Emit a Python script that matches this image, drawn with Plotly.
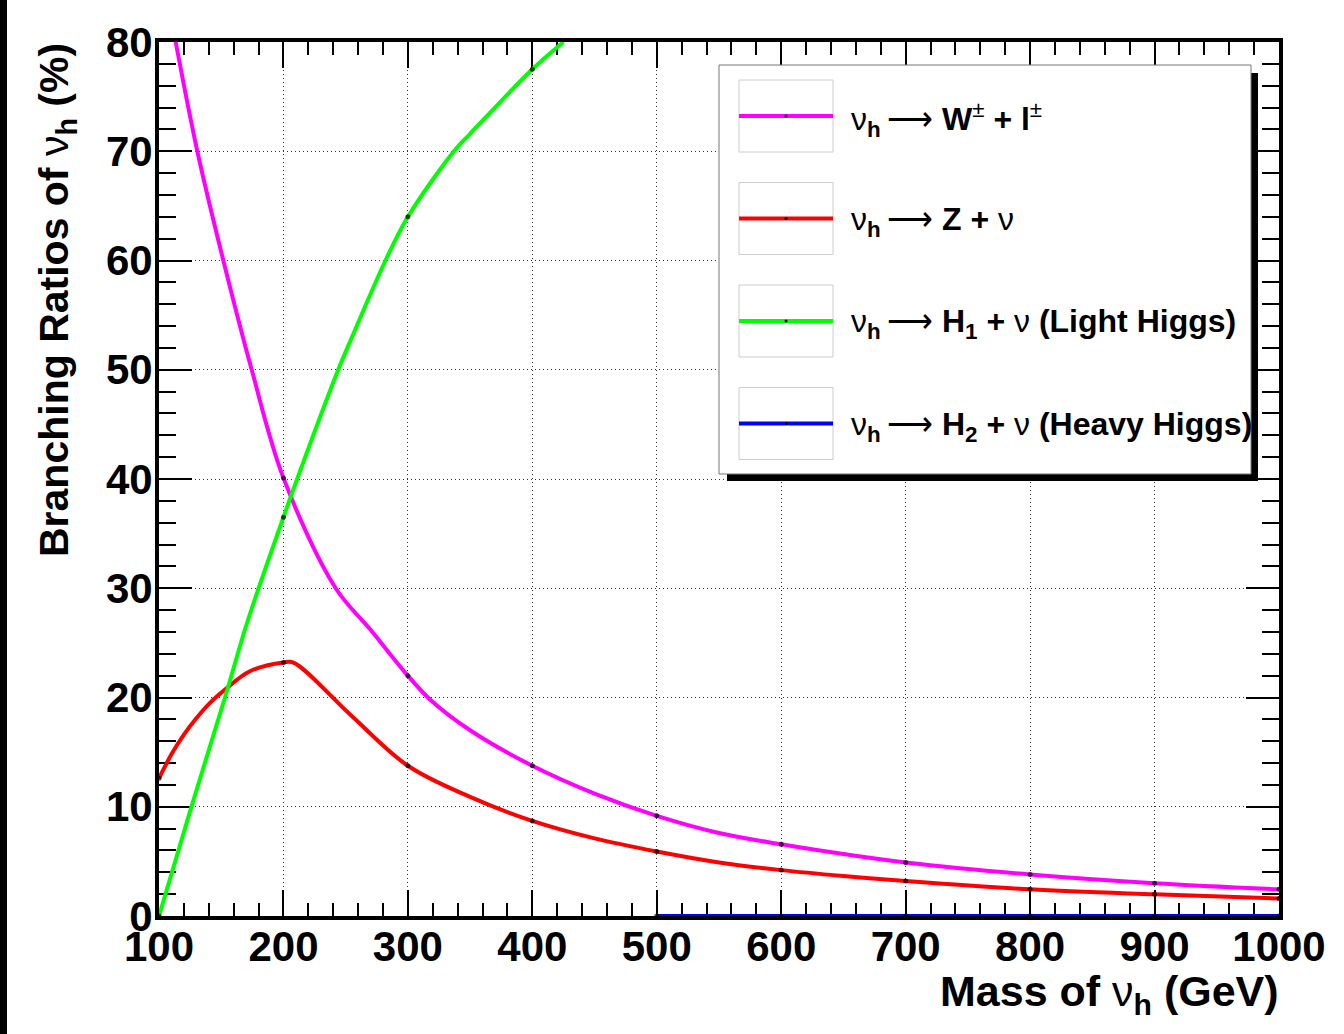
import plotly.graph_objects as go

# ---------------- data ----------------
mass_w = [113.4, 130.8, 151.7, 174.5, 200, 242, 270, 300, 318, 350, 400, 450, 500, 550, 600, 650, 700, 800, 900, 1000]
br_w = [80, 70, 60, 50, 40.1, 30, 26.2, 22.0, 19.8, 17.0, 13.75, 11.2, 9.17, 7.6, 6.56, 5.67, 4.9, 3.8, 3.0, 2.44]

mass_z = [100, 110, 120, 130, 140, 155, 173, 200, 208, 254, 300, 350, 400, 450, 500, 550, 600, 650, 700, 800, 900, 1000]
br_z = [12.6, 14.8, 16.6, 18.1, 19.4, 20.9, 22.4, 23.2, 23.2, 18.4, 13.75, 10.9, 8.7, 7.1, 5.9, 4.9, 4.2, 3.66, 3.2, 2.44, 1.98, 1.6]

mass_h1 = [100, 125, 153, 169, 180, 200, 211, 244, 254, 282, 300, 337, 350, 400, 425]
br_h1 = [0, 9.6, 20, 26.2, 30, 36.5, 40, 50, 52.7, 60, 64, 70, 71.6, 77.5, 80]

mass_h2 = [500, 600, 700, 800, 900, 1000]
br_h2 = [0, 0, 0, 0, 0, 0]

x_ticks = [100, 200, 300, 400, 500, 600, 700, 800, 900, 1000]
y_ticks = [0, 10, 20, 30, 40, 50, 60, 70, 80]

ARROW = "\u2009⟶"
series = [
    ("ν<sub><b>h</b></sub>" + ARROW + " <b>W</b><sup>±</sup><b> + l</b><sup>±</sup>", mass_w, br_w, "#ff00ff"),
    ("ν<sub><b>h</b></sub>" + ARROW + " <b>Z + </b>ν", mass_z, br_z, "#ff0000"),
    ("ν<sub><b>h</b></sub>" + ARROW + " <b>H</b><sub><b>1</b></sub><b> + </b>ν<b> (Light Higgs)</b>", mass_h1, br_h1, "#00ff00"),
    ("ν<sub><b>h</b></sub>" + ARROW + " <b>H</b><sub><b>2</b></sub><b> + </b>ν<b> (Heavy Higgs)</b>", mass_h2, br_h2, "#0000ff"),
]

# ---------------- geometry helpers (pixels -> paper) ----------------
W, H = 1344, 1034
L, R, T, B = 159, 1279, 42, 916
PW, PH = R - L, B - T


def px(x):
    return (x - L) / PW


def py(y):
    return (B - y) / PH


FONT = "Liberation Sans, Arial, sans-serif"

fig = go.Figure()
for name, xs, ys, col in series:
    sizes = [5 if abs(m % 100) < 1e-9 else 0 for m in xs]
    fig.add_trace(go.Scatter(
        x=xs, y=ys, mode="lines+markers", name=name,
        line=dict(color=col, width=4, shape="spline", smoothing=1.0),
        marker=dict(color="black", size=sizes, line=dict(width=0)),
        cliponaxis=False, hoverinfo="x+y",
    ))

shapes = []
annotations = []

# black strip at left edge of the canvas
shapes.append(dict(type="rect", xref="paper", yref="paper",
                   x0=px(0), x1=px(7), y0=py(H), y1=py(0),
                   fillcolor="black", line=dict(width=0), layer="above"))

# manual legend: shadow, box, entries
shapes.append(dict(type="rect", xref="paper", yref="paper",
                   x0=px(727), x1=px(1258), y0=py(481), y1=py(73),
                   fillcolor="black", line=dict(width=0), layer="above"))
shapes.append(dict(type="rect", xref="paper", yref="paper",
                   x0=px(719), x1=px(1251), y0=py(474), y1=py(65),
                   fillcolor="white", line=dict(color="#777", width=1), layer="above"))
for i, (name, xs, ys, col) in enumerate(series):
    top = 80 + i * 102.5
    bot = top + 72
    cy = (top + bot) / 2
    shapes.append(dict(type="rect", xref="paper", yref="paper",
                       x0=px(739), x1=px(833), y0=py(bot), y1=py(top),
                       fillcolor="white", line=dict(color="#cccccc", width=1), layer="above"))
    shapes.append(dict(type="line", xref="paper", yref="paper",
                       x0=px(739), x1=px(833), y0=py(cy), y1=py(cy),
                       line=dict(color=col, width=4), layer="above"))
    shapes.append(dict(type="circle", xref="paper", yref="paper",
                       x0=px(784.5), x1=px(787.5), y0=py(cy + 1.5), y1=py(cy - 1.5),
                       fillcolor="black", line=dict(width=0), layer="above"))
    annotations.append(dict(xref="paper", yref="paper", x=px(849), y=py(cy + 3),
                            xanchor="left", yanchor="middle", showarrow=False,
                            text=name, font=dict(family=FONT, size=32, color="black")))

# axis titles
annotations.append(dict(xref="paper", yref="paper", x=px(1281), y=py(965),
                        xanchor="right", yanchor="top", showarrow=False,
                        text="<b>Mass of </b>ν<sub><b>h</b></sub><b> (GeV)</b>",
                        font=dict(family=FONT, size=43, color="black")))
annotations.append(dict(xref="paper", yref="paper", x=px(57), y=py(41),
                        xanchor="center", yanchor="top", showarrow=False, textangle=-90,
                        text="<b>Branching Ratios of </b>ν<sub><b>h</b></sub><b> (%)</b>",
                        font=dict(family=FONT, size=41, color="black")))

axis_common = dict(
    ticks="inside", tickwidth=2, tickcolor="black",
    showline=True, linewidth=4, linecolor="black", mirror="allticks",
    showgrid=True, gridcolor="#333333", gridwidth=1, griddash="1px,3px",
    zeroline=False,
    tickfont=dict(family=FONT, size=42, color="black", weight="bold"),
    layer="below traces",
)

fig.update_layout(
    width=W, height=H,
    margin=dict(l=L, r=W - R, t=T, b=H - B, pad=0),
    paper_bgcolor="white", plot_bgcolor="white",
    showlegend=False,
    xaxis=dict(range=[100, 1000], tickvals=x_ticks, ticklen=26, ticklabelstandoff=-9,
               minor=dict(ticks="inside", ticklen=13, tickwidth=2, tickcolor="black",
                          dtick=20, tick0=100, showgrid=False),
               **axis_common),
    yaxis=dict(range=[0, 80], tickvals=y_ticks, ticklen=33, ticklabelstandoff=-6,
               minor=dict(ticks="inside", ticklen=17, tickwidth=2, tickcolor="black",
                          dtick=2, tick0=0, showgrid=False),
               **axis_common),
    shapes=shapes,
    annotations=annotations,
)

fig.write_html("out.html")
